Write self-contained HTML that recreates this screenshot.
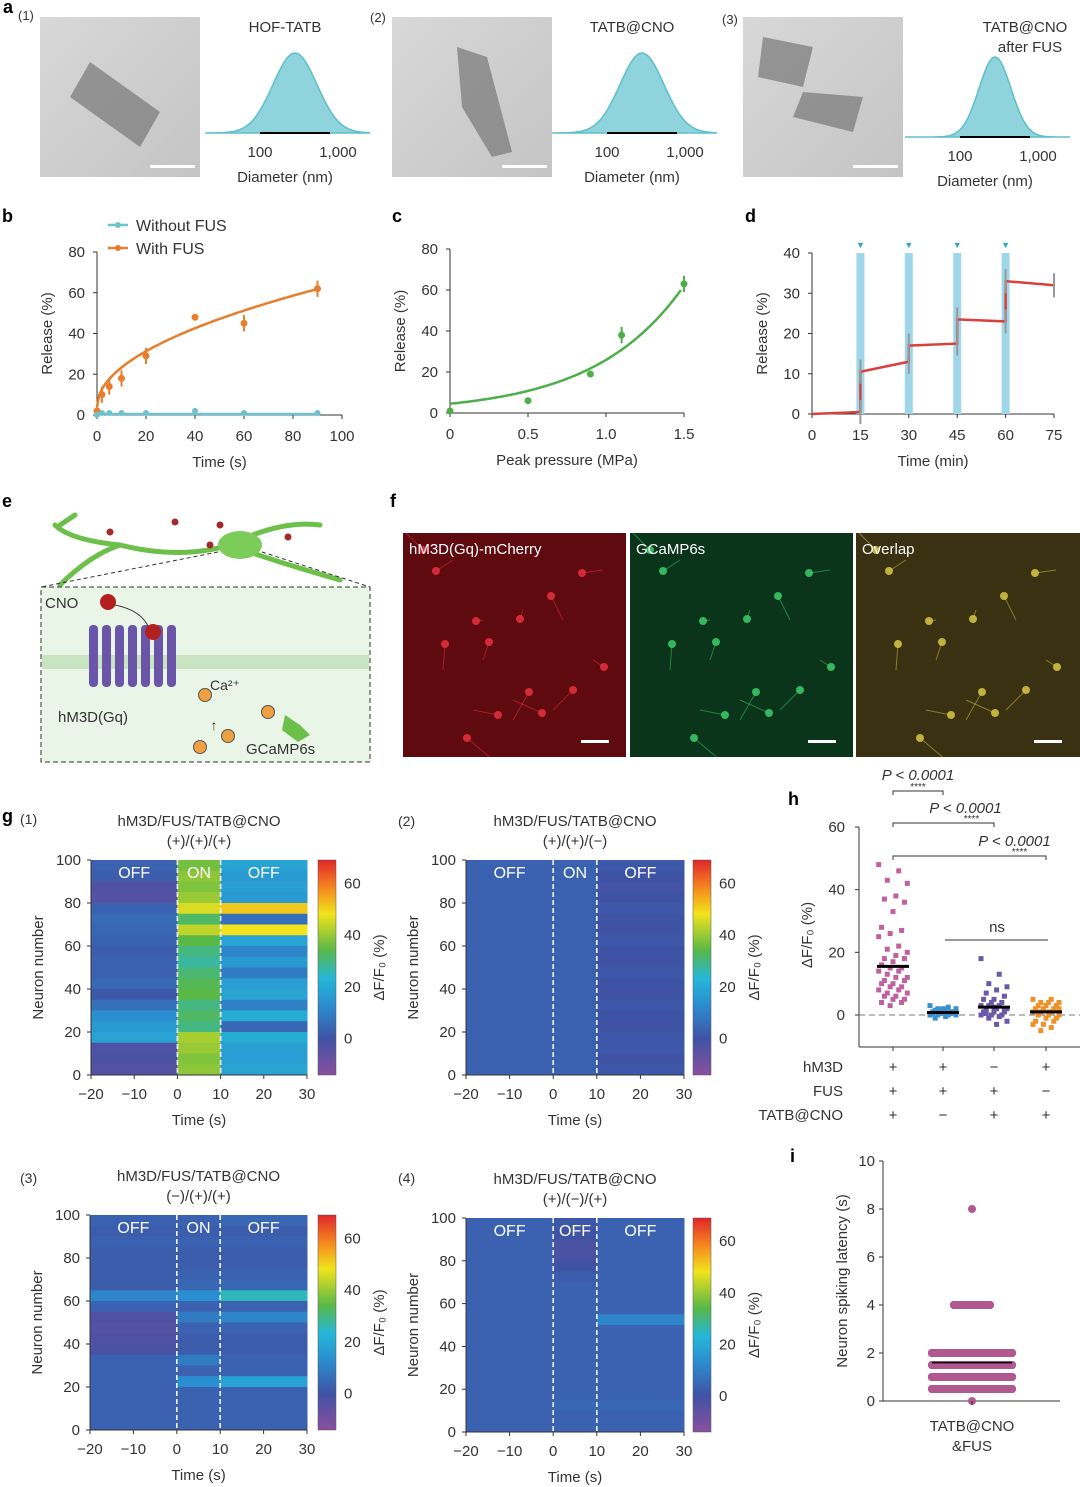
<!DOCTYPE html>
<html><head><meta charset="utf-8"><style>
html,body{margin:0;padding:0;background:#fff}
svg{display:block;font-family:"Liberation Sans",sans-serif}
</style></head><body>
<svg id="fig" width="1080" height="1487" viewBox="0 0 1080 1487" xmlns="http://www.w3.org/2000/svg">
<defs>
<linearGradient id="cmap" x1="0" y1="1" x2="0" y2="0">
<stop offset="0" stop-color="#8a4f9e"/><stop offset="0.17" stop-color="#3f53a5"/><stop offset="0.33" stop-color="#2a8fd0"/><stop offset="0.45" stop-color="#25b7d8"/><stop offset="0.58" stop-color="#5ab847"/><stop offset="0.75" stop-color="#f2e31b"/><stop offset="0.87" stop-color="#f5891f"/><stop offset="1" stop-color="#e0262a"/>
</linearGradient>
<linearGradient id="tem" x1="0" y1="0" x2="1" y2="1"><stop offset="0" stop-color="#d8d8d8"/><stop offset="1" stop-color="#c4c4c4"/></linearGradient>
<clipPath id="cf1"><rect x="403" y="533" width="223" height="224"/></clipPath>
<clipPath id="cf2"><rect x="630" y="533" width="223" height="224"/></clipPath>
<clipPath id="cf3"><rect x="856" y="533" width="224" height="224"/></clipPath>
</defs>
<g id="root"></g>
</svg>
<script>
// ---------- data ----------
const bTime=[0,2,5,10,20,40,60,90];
const bWith=[2,10,14,18,29,48,45,62];
const bWithout=[0,1,1,1,1,2,1,1];
const cPressure=[0,0.5,0.9,1.1,1.5];
const cRelease=[1,6,19,38,63];
const dTime=[0,15,15,30,30,45,45,60,60,75];
const dRelease=[0,0.5,10.5,13,17,17.5,23.5,23,33,32];
const dPulses=[15,30,45,60];
// heatmap rows (top=neuron 100 → bottom=0): [OFF before, ON, OFF after]
const hm1=[[3,32,16],[2,34,14],[-3,33,15],[-4,35,14],[3,40,45],[5,28,6],[4,38,42],[3,30,16],[2,26,10],[3,24,14],[3,27,8],[4,29,15],[1,30,16],[6,26,9],[12,28,18],[14,26,4],[16,36,18],[-3,35,15],[-2,33,15],[-4,34,16]];
const hm2=[[3,3,1],[3,3,0],[3,3,-1],[3,3,0],[3,3,1],[3,3,0],[3,3,0],[3,3,1],[3,3,0],[3,3,0],[3,3,1],[3,3,0],[3,3,0],[3,3,1],[3,3,0],[3,3,0],[3,3,1],[3,3,1],[3,3,0],[3,3,1]];
const hm3=[[3,3,4],[2,2,2],[3,3,3],[2,2,2],[2,2,2],[2,3,3],[2,4,4],[10,12,22],[3,3,3],[-3,8,10],[-4,3,3],[-3,2,2],[-2,2,2],[3,8,3],[3,3,3],[3,12,16],[3,3,3],[3,3,3],[3,3,3],[3,3,3]];
const hm4=[[3,1,3],[3,0,3],[3,-2,3],[3,-2,3],[3,0,3],[3,2,3],[3,3,3],[3,3,3],[3,3,3],[3,3,10],[3,3,3],[3,3,3],[3,3,3],[3,3,3],[3,3,3],[3,3,3],[3,3,3],[3,4,4],[3,3,3],[3,3,3]];
const hG1=[48,46,43,42,38,37,36,33,28,27,26,25,22,21,20,19,18,18,17,16,15,15,14,14,13,12,12,11,11,10,10,9,9,8,8,7,7,6,6,5,5,4,4,3];
const hG2=[3,2.5,2,2,1.5,1.5,1,1,1,0.5,0.5,0.5,0,0,0,-0.5,-1,1,2,0.5,1,1.5,0,0.5];
const hG3=[18,13,10,9,8,7,6,5,5,4,4,3,3,3,2,2,2,1,1,1,0,0,0,-0.5,-1,-2,-3,0.5,1.5,2.5];
const hG4=[5,5,4,4,4,3,3,3,2,2,2,1,1,1,0,0,0,-1,-1,-2,-2,-3,-3,-4,-5,2,1,0,3,-1];
const hMeans=[15.5,0.8,2.5,1];
const iLatency=[8,4,4,4,4,2,2,2,2,1.5,1.5,1.5,1,1,1,1,0.5,0.5,0.5,0.5,0];
const iMean=1.6;

const NS="http://www.w3.org/2000/svg";
const root=document.getElementById('root');
function el(tag,attrs,parent){const e=document.createElementNS(NS,tag);for(const k in attrs)e.setAttribute(k,attrs[k]);(parent||root).appendChild(e);return e;}
function tx(x,y,s,size,anchor,parent,extra){const e=el('text',Object.assign({x:x,y:y,'font-size':size||15,'text-anchor':anchor||'middle',fill:'#333'},extra||{}),parent);e.textContent=s;return e;}
function lin(d0,d1,p0,p1){return v=>p0+(v-d0)*(p1-p0)/(d1-d0);}

// ---------- panel a ----------
function panelA(ix,lbl,title,ox){
  const g=el('g',{});
  
  
  const r=el('rect',{x:ix,y:17,width:160,height:160,fill:'url(#tem)'},g);
  
  const shapes={'1':'M50,45 L120,95 L100,130 L30,80 Z','2':'M65,30 L95,40 L120,135 L100,140 L70,90 Z','3':'M20,20 L70,30 L60,70 L15,60 Z M60,75 L120,80 L110,115 L50,100 Z'};
  el('path',{d:shapes[lbl],fill:'#777',opacity:0.7,transform:`translate(${ix},17)`},g);
  el('rect',{x:ix+110,y:165,width:45,height:3,fill:'#fff'},g);
  const bl=ox, br=ox+165, pk=ox+90, base=lbl=='3'?137:133;
  let d=`M${bl},${base}`;
  for(let x=bl;x<=br;x+=2){const s=lbl=='3'?16:22;const y=base-80*Math.exp(-Math.pow((x-pk)/s,2)/2);d+=` L${x},${y.toFixed(1)}`;}
  el('path',{d:d+` L${br},${base} Z`,fill:'#8fd3dc',stroke:'#5cbfcc','stroke-width':1.5},g);
  el('line',{x1:pk-35,y1:base,x2:pk+35,y2:base,stroke:'#000','stroke-width':2},g);
  tx(ox+55,base+24,'100',15,'middle',g);tx(ox+133,base+24,'1,000',15,'middle',g);
  tx(ox+80,base+49,'Diameter (nm)',15,'middle',g);
  if(title)tx(ox+80,32,title,15,'middle',g);
}
tx(3,13,'a',18,'start',null,{'font-weight':'bold',fill:'#000'});
tx(18,20,'(1)',13,'start');tx(370,22,'(2)',13,'start');tx(722,24,'(3)',13,'start');
panelA(40,'1','HOF-TATB',205);
panelA(392,'2','TATB@CNO',552);
panelA(743,'3','',905);
tx(1025,32,'TATB@CNO',15,'middle');tx(1030,52,'after FUS',15,'middle');

function axes(x0,y0,x1,y1,xt,xs,yt,ys,xlab,ylab,name){
  const g=el('g',{});
  el('line',{x1:x0,y1:y0,x2:x1,y2:y0,stroke:'#333'},g);
  el('line',{x1:x0,y1:y0,x2:x0,y2:y1,stroke:'#333'},g);
  xt.forEach(v=>{const x=xs(v);el('line',{x1:x,y1:y0,x2:x,y2:y0+4,stroke:'#333'},g);tx(x,y0+26,String(v).replace('-','−'),15,'middle',g);});
  yt.forEach(v=>{const y=ys(v);el('line',{x1:x0-4,y1:y,x2:x0,y2:y,stroke:'#333'},g);tx(x0-12,y+5,String(v),15,'end',g);});
  tx((x0+x1)/2,y0+52,xlab,15,'middle',g);
  tx(0,0,ylab,15,'middle',g,{transform:`translate(${x0-45},${(y0+y1)/2}) rotate(-90)`});
  return g;
}
// ---------- panel b ----------
{
  tx(2,222,'b',18,'start',null,{'font-weight':'bold',fill:'#000'});
  const xs=lin(0,100,97,342), ys=lin(0,80,415,252);
  const g=axes(97,415,342,252,[0,20,40,60,80,100],xs,[0,20,40,60,80],ys,'Time (s)','Release (%)','panel-b-chart');
  let p='';for(let t=0;t<=90;t+=1){p+=(t?'L':'M')+xs(t)+','+ys(4+6.1*Math.sqrt(t)).toFixed(1);}
  el('path',{d:p,fill:'none',stroke:'#e87d2c','stroke-width':2.5},g);
  el('line',{x1:xs(0),y1:ys(0.5),x2:xs(90),y2:ys(0.5),stroke:'#6cc3cf','stroke-width':2.5},g);
  bTime.forEach((t,i)=>{const c=el('circle',{cx:xs(t),cy:ys(bWith[i]),r:3.5,fill:'#e87d2c'},g);
    if(i>0&&i!=5){el('line',{x1:xs(t),y1:ys(bWith[i]-4),x2:xs(t),y2:ys(bWith[i]+4),stroke:'#e87d2c','stroke-width':2},g);}
    const c2=el('circle',{cx:xs(t),cy:ys(bWithout[i]),r:3,fill:'#6cc3cf'},g);});
  const lg=el('g',{});
  el('line',{x1:108,y1:225,x2:128,y2:225,stroke:'#6cc3cf','stroke-width':2.5},lg);el('circle',{cx:118,cy:225,r:3,fill:'#6cc3cf'},lg);tx(136,231,'Without FUS',16,'start',lg);
  el('line',{x1:108,y1:248,x2:128,y2:248,stroke:'#e87d2c','stroke-width':2.5},lg);el('circle',{cx:118,cy:248,r:3,fill:'#e87d2c'},lg);tx(136,254,'With FUS',16,'start',lg);
}
// ---------- panel c ----------
{
  tx(392,222,'c',18,'start',null,{'font-weight':'bold',fill:'#000'});
  const xs=lin(0,1.5,450,684), ys=lin(0,80,413,249);
  const g=axes(450,413,684,249,[0,0.5,1.0,1.5],xs,[0,20,40,60,80],ys,'Peak pressure (MPa)','Release (%)','panel-c-chart');
  g.querySelectorAll('text').forEach(t=>{if(t.textContent=='1')t.textContent='1.0';});
  let p='';for(let v=0;v<=1.5;v+=0.02){p+=(v?'L':'M')+xs(v)+','+ys(4.5*Math.exp(1.75*v)).toFixed(1);}
  el('path',{d:p,fill:'none',stroke:'#4daf4a','stroke-width':2.5},g);
  cPressure.forEach((v,i)=>{const c=el('circle',{cx:xs(v),cy:ys(cRelease[i]),r:3.5,fill:'#4daf4a'},g);
    if(i>=3)el('line',{x1:xs(v),y1:ys(cRelease[i]-4),x2:xs(v),y2:ys(cRelease[i]+4),stroke:'#4daf4a','stroke-width':2},g);});
}
// ---------- panel d ----------
{
  tx(745,222,'d',18,'start',null,{'font-weight':'bold',fill:'#000'});
  const xs=lin(0,75,812,1054), ys=lin(0,40,414,253);
  const g=axes(812,414,1054,253,[0,15,30,45,60,75],xs,[0,10,20,30,40],ys,'Time (min)','Release (%)','panel-d-chart');
  dPulses.forEach(t=>{const r=el('rect',{x:xs(t)-4,y:253,width:8,height:161,fill:'#9fd6ea'},g);
    tx(xs(t),248,'▼',9,'middle',g,{fill:'#2aa6c8'});});
  let p='';dTime.forEach((t,i)=>{p+=(i?'L':'M')+xs(t)+','+ys(dRelease[i]);});
  el('path',{d:p,fill:'none',stroke:'#d9403a','stroke-width':2.5},g);
  dTime.forEach((t,i)=>{if(i>0)el('line',{x1:xs(t),y1:ys(dRelease[i]-3),x2:xs(t),y2:ys(dRelease[i]+3),stroke:'#999','stroke-width':2},g);});
}
// ---------- panel e ----------
{
  tx(2,507,'e',18,'start',null,{'font-weight':'bold',fill:'#000'});
  const g=el('g',{});
  el('path',{d:'M55,525 Q70,540 120,545 Q180,560 230,545 Q280,520 320,525 M230,545 Q270,560 340,580 M120,545 Q90,555 60,585 M60,525 L75,515',stroke:'#6cc04a','stroke-width':5,fill:'none','stroke-linecap':'round'},g);
  el('ellipse',{cx:240,cy:545,rx:22,ry:14,fill:'#7ccc5a'},g);
  el('path',{d:'M218,552 L41,587 M262,552 L370,587',stroke:'#333','stroke-dasharray':'4,3',fill:'none'},g);
  [[110,532],[175,522],[210,545],[288,537],[220,525]].forEach(p=>el('circle',{cx:p[0],cy:p[1],r:3.5,fill:'#a32a2a'},g));
  el('rect',{x:41,y:587,width:329,height:175,fill:'#e9f5e6',stroke:'#333','stroke-dasharray':'5,3'},g);
  el('rect',{x:42,y:655,width:327,height:14,fill:'#c9e4c0'},g);
  for(let i=0;i<7;i++)el('rect',{x:89+i*13,y:625,width:9,height:62,rx:4,fill:'#6a55a8'},g);
  el('circle',{cx:108,cy:602,r:8,fill:'#b32020'},g);el('circle',{cx:153,cy:632,r:8,fill:'#b32020'},g);
  el('path',{d:'M115,605 Q140,610 148,626',stroke:'#333',fill:'none'},g);
  [[205,695],[228,736],[200,747],[268,712]].forEach(p=>el('circle',{cx:p[0],cy:p[1],r:6.5,fill:'#f0a040',stroke:'#555'},g));
  el('path',{d:'M285,715 L300,725 L310,735 L298,742 L282,730 Z',fill:'#6cc04a'},g);
  tx(45,608,'CNO',15,'start',g);tx(58,722,'hM3D(Gq)',15,'start',g);tx(210,690,'Ca²⁺',14,'start',g);tx(246,754,'GCaMP6s',15,'start',g);
  tx(214,730,'↑',14,'middle',g);
}
// ---------- panel f ----------
{
  tx(390,507,'f',18,'start',null,{'font-weight':'bold',fill:'#000'});
  const f=[[403,'#5e0a0e','hM3D(Gq)-mCherry','#e83040'],[630,'#0a351a','GCaMP6s','#3ccc6c'],[856,'#3a3012','Overlap','#d8c848']];
  f.forEach((a,i)=>{const g=el('g',{'clip-path':'url(#cf'+(i+1)+')'});
    el('rect',{x:a[0],y:533,width:224,height:224,fill:a[1]},g);
    for(let k=0;k<14;k++){const x=a[0]+20+((k*53)%190),y=550+((k*71)%190);
      el('line',{x1:x,y1:y,x2:x+((k*37)%60)-30,y2:y+((k*29)%60)-30,stroke:a[3],'stroke-width':1,opacity:0.5},g);
      el('circle',{cx:x,cy:y,r:4,fill:a[3],opacity:0.85},g);}
    el('rect',{x:a[0]+178,y:740,width:28,height:3,fill:'#fff'},g);
    tx(a[0]+6,554,a[2],15,'start',g,{fill:'#fff'});});
}
// ---------- panel g heatmaps ----------
const stops=[[-14,[138,79,158]],[0,[63,83,165]],[12,[42,143,208]],[20,[37,183,216]],[30,[90,184,71]],[42,[242,227,27]],[52,[245,137,31]],[69,[224,38,42]]];
function cmap(v){v=Math.max(-14,Math.min(69,v));for(let i=1;i<stops.length;i++){if(v<=stops[i][0]){const a=stops[i-1],b=stops[i],t=(v-a[0])/(b[0]-a[0]);return 'rgb('+a[1].map((c,j)=>Math.round(c+(b[1][j]-c)*t)).join(',')+')';}}return 'rgb(224,38,42)';}
function heat(x0,y0,w,h,cbx,rows,num,t1,t2,labels){
  const g=el('g',{});
  const xs=lin(-20,30,x0,x0+w), ys=lin(0,100,y0+h,y0);
  const segs=[[-20,0],[0,10],[10,30]];
  const rh=h/rows.length;
  rows.forEach((r,i)=>{segs.forEach((s,j)=>{const c=el('rect',{x:xs(s[0]),y:y0+i*rh,width:xs(s[1])-xs(s[0])+0.5,height:rh+0.5,fill:cmap(r[j])},g);});});
  [0,10].forEach(t=>el('line',{x1:xs(t),y1:y0,x2:xs(t),y2:y0+h,stroke:'#fff','stroke-width':1.5,'stroke-dasharray':'5,3'},g));
  [[-10,labels[0]],[5,labels[1]],[20,labels[2]]].forEach(l=>tx(xs(l[0]),y0+18,l[1],16,'middle',g,{fill:'#fff'}));
  el('line',{x1:x0,y1:y0+h,x2:x0+w,y2:y0+h,stroke:'#333'},g);el('line',{x1:x0,y1:y0,x2:x0,y2:y0+h,stroke:'#333'},g);
  [-20,-10,0,10,20,30].forEach(v=>{const x=xs(v);el('line',{x1:x,y1:y0+h,x2:x,y2:y0+h+4,stroke:'#333'},g);tx(x,y0+h+24,String(v).replace('-','−'),15,'middle',g);});
  [0,20,40,60,80,100].forEach(v=>{const y=ys(v);el('line',{x1:x0-4,y1:y,x2:x0,y2:y,stroke:'#333'},g);tx(x0-10,y+5,String(v),15,'end',g);});
  tx(x0+w/2,y0+h+50,'Time (s)',15,'middle',g);
  tx(0,0,'Neuron number',15,'middle',g,{transform:`translate(${x0-48},${y0+h/2}) rotate(-90)`});
  tx(x0+w/2,y0-34,t1,15,'middle',g);tx(x0+w/2,y0-14,t2,15,'middle',g);
  el('rect',{x:cbx,y:y0,width:18,height:h,fill:'url(#cmap)',stroke:'#555','stroke-width':0.5},g);
  const cs=lin(-14,69,y0+h,y0);
  [0,20,40,60].forEach(v=>{tx(cbx+26,cs(v)+5,String(v),15,'start',g);});
  tx(0,0,'ΔF/F₀ (%)',15,'middle',g,{transform:`translate(${cbx+66},${y0+h/2}) rotate(-90)`});
}
tx(2,822,'g',18,'start',null,{'font-weight':'bold',fill:'#000'});
tx(20,824,'(1)',14,'start');tx(398,826,'(2)',14,'start');tx(20,1183,'(3)',14,'start');tx(398,1183,'(4)',14,'start');
heat(91,860,216,215,318,hm1,1,'hM3D/FUS/TATB@CNO','(+)/(+)/(+)',['OFF','ON','OFF']);
heat(466,860,218,215,693,hm2,2,'hM3D/FUS/TATB@CNO','(+)/(+)/(−)',['OFF','ON','OFF']);
heat(90,1215,217,215,318,hm3,3,'hM3D/FUS/TATB@CNO','(−)/(+)/(+)',['OFF','ON','OFF']);
heat(466,1218,218,214,693,hm4,4,'hM3D/FUS/TATB@CNO','(+)/(−)/(+)',['OFF','OFF','OFF']);
// ---------- panel h ----------
{
  tx(788,805,'h',18,'start',null,{'font-weight':'bold',fill:'#000'});
  const g=el('g',{});
  const ys=lin(0,60,1015,827), gx=[893,943,994,1046];
  el('line',{x1:859,y1:827,x2:859,y2:1047,stroke:'#333'},g);el('line',{x1:859,y1:1047,x2:1080,y2:1047,stroke:'#333'},g);
  [0,20,40,60].forEach(v=>{el('line',{x1:855,y1:ys(v),x2:859,y2:ys(v),stroke:'#333'},g);tx(845,ys(v)+5,String(v),15,'end',g);});
  el('line',{x1:859,y1:1015,x2:1080,y2:1015,stroke:'#777','stroke-dasharray':'6,4'},g);
  tx(0,0,'ΔF/F₀ (%)',15,'middle',g,{transform:'translate(812,935) rotate(-90)'});
  const groups=[hG1,hG2,hG3,hG4], cols=['#c0609e','#3a8fd0','#6a58a8','#f0902a'];
  groups.forEach((arr,k)=>{arr.forEach((v,i)=>{const off=((i*7)%11-5)*2.6*(k==0?1.1:1);const c=el('rect',{x:gx[k]+off-2.5,y:ys(v)-2.5,width:5,height:5,fill:cols[k]},g);});
    el('line',{x1:gx[k]-16,y1:ys(hMeans[k]),x2:gx[k]+16,y2:ys(hMeans[k]),stroke:'#000','stroke-width':3},g);
    el('line',{x1:gx[k],y1:1047,x2:gx[k],y2:1051,stroke:'#333'},g);});
  const signs=[['+','+','−','+'],['+','+','+','−'],['+','−','+','+']];
  ['hM3D','FUS','TATB@CNO'].forEach((n,r)=>{tx(843,1072+r*24,n,15,'end',g);signs[r].forEach((s,k)=>tx(gx[k],1072+r*24,s,15,'middle',g));});
  [[943,783,'P < 0.0001',820],[994,815,'P < 0.0001',852],[1046,848,'P < 0.0001',885]].forEach((b,i)=>{
    el('path',{d:`M893,${b[1]+12} L893,${b[1]+8} L${b[0]},${b[1]+8} L${b[0]},${b[1]+12}`,stroke:'#333',fill:'none'},g);
    tx((893+b[0])/2+(i==0?0:i==1?22:45),b[1]-2+(i==0?-1:0),b[2],15,'middle',g,{'font-style':'italic'});
    tx((893+b[0])/2+(i==0?0:i==1?28:50),b[1]+7,'****',10,'middle',g);});
  el('line',{x1:945,y1:940,x2:1048,y2:940,stroke:'#333'},g);tx(997,932,'ns',15,'middle',g);
}
// ---------- panel i ----------
{
  tx(790,1162,'i',18,'start',null,{'font-weight':'bold',fill:'#000'});
  const g=el('g',{});
  const ys=lin(0,10,1401,1161), cx=972;
  el('line',{x1:883,y1:1161,x2:883,y2:1401,stroke:'#333'},g);el('line',{x1:883,y1:1401,x2:1060,y2:1401,stroke:'#333'},g);
  [0,2,4,6,8,10].forEach(v=>{el('line',{x1:879,y1:ys(v),x2:883,y2:ys(v),stroke:'#333'},g);tx(875,ys(v)+5,String(v),15,'end',g);});
  tx(0,0,'Neuron spiking latency (s)',15,'middle',g,{transform:'translate(847,1281) rotate(-90)'});
  const cnt={};iLatency.forEach(v=>{cnt[v]=(cnt[v]||0)+1;});
  iLatency.forEach((v,i)=>{const n=cnt[v];const w=n>1?(v==4?18:v<=2?40:10):0;const c=el('rect',{x:cx-w-4,y:ys(v)-4,width:2*w+8,height:8,rx:4,fill:'#b0588f'},g);});
  el('line',{x1:cx-40,y1:ys(iMean),x2:cx+40,y2:ys(iMean),stroke:'#000','stroke-width':1.5},g);
  el('line',{x1:cx,y1:1401,x2:cx,y2:1405,stroke:'#333'},g);
  tx(cx,1431,'TATB@CNO',15,'middle',g);tx(cx,1451,'&FUS',15,'middle',g);
}
</script>
</body></html>
